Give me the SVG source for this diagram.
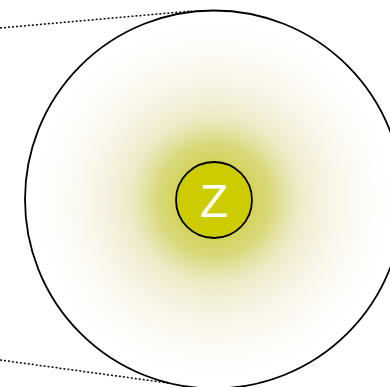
<svg xmlns="http://www.w3.org/2000/svg" width="390" height="387" viewBox="0 0 390 387">
<defs>
<radialGradient id="glow" cx="214" cy="200" r="189" gradientUnits="userSpaceOnUse">
<stop offset="0" stop-color="#c8c400" stop-opacity="0.95"/>
<stop offset="0.3" stop-color="#cccc50" stop-opacity="0.75"/>
<stop offset="0.45" stop-color="#dcd890" stop-opacity="0.5"/>
<stop offset="0.62" stop-color="#eadcb0" stop-opacity="0.3"/>
<stop offset="0.82" stop-color="#f5efd8" stop-opacity="0.2"/>
<stop offset="1" stop-color="#ffffff" stop-opacity="0"/>
</radialGradient>
<style>
.dot{stroke:#000;stroke-width:1.5;stroke-dasharray:2,2;fill:none}
.ring{stroke:#000;stroke-width:1.8}
</style>
</defs>
<rect width="390" height="387" fill="#fff"/>
<g id="connectors">
<line class="dot" x1="0" y1="28" x2="192" y2="11"/>
<line class="dot" x1="0" y1="360" x2="190" y2="386"/>
</g>
<g id="zoom-circle">
<circle class="ring" cx="214" cy="199.5" r="189" fill="#fff"/>
<circle cx="214" cy="199.5" r="188" fill="url(#glow)"/>
</g>
<g id="node-Z">
<circle cx="214" cy="200" r="38" fill="#cccc00" stroke="#000" stroke-width="1.8"/>
<text x="214" y="217" text-anchor="middle" font-family="'Liberation Sans', Arial, sans-serif" font-size="46" fill="#fff">Z</text>
</g>
</svg>
